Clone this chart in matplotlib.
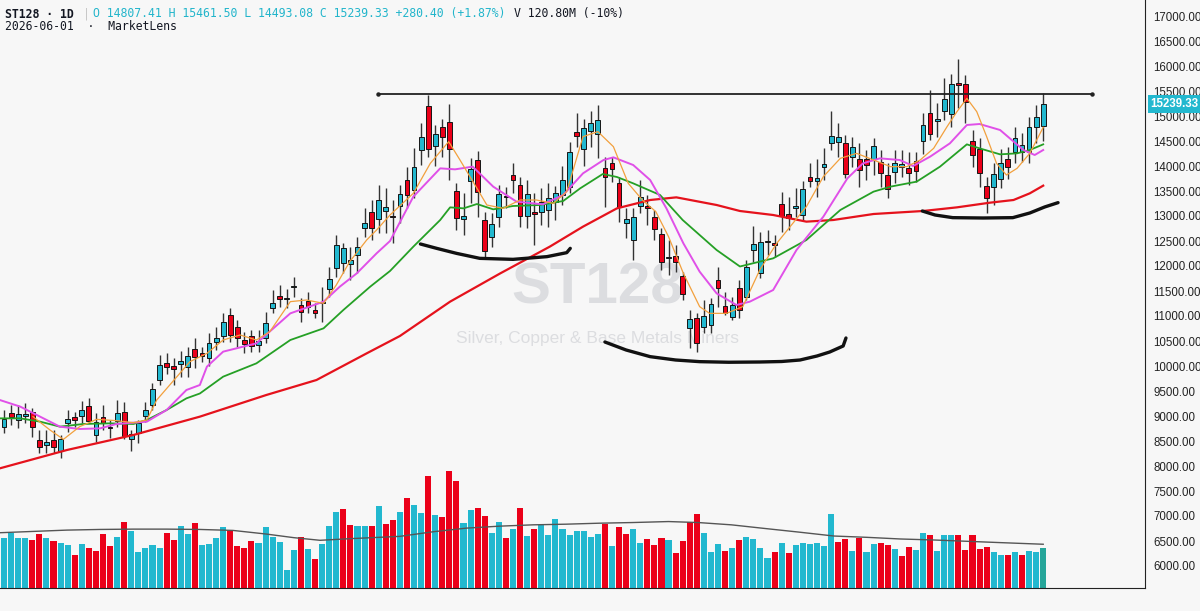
import numpy as np
import matplotlib.pyplot as plt

# daily OHLC (index 0 = first visible session)
opens = [8787, 9067, 8920, 9000, 9073, 8520, 8420, 8520, 8307, 8853,
         8987, 9000, 9200, 8620, 8987, 8787, 8907, 9087, 8533, 8653,
         9000, 9220, 9720, 10053, 10000, 10040, 9987, 10333, 10253, 10153,
         10473, 10600, 11020, 10773, 10520, 10607, 10420, 10553, 11153, 11400,
         11340, 11590, 11213, 11307, 11120, 11270, 11540, 11967, 12067, 12040,
         12220, 12753, 13087, 12933, 13107, 12990, 13200, 13720, 13520, 14320,
         15200, 14407, 14773, 14887, 13500, 12933, 13707, 14120, 12920, 12587,
         12987, 13400, 13820, 13620, 13000, 13080, 13087, 13120, 13287, 13420,
         13587, 14687, 14333, 14700, 14640, 13967, 14053, 13653, 12853, 12520,
         13200, 13200, 12973, 12640, 12160, 12207, 11807, 10753, 10967, 10787,
         10820, 11720, 11200, 10973, 11553, 11387, 12320, 11853, 12480, 12467,
         13233, 13040, 13153, 13020, 13773, 13700, 13987, 14453, 14473, 14453,
         14187, 14133, 14140, 14133, 14073, 13820, 13873, 13987, 13953, 14107,
         14507, 15067, 14893, 15107, 15033, 15655, 15633, 14500, 14333, 13600,
         13587, 13733, 14133, 14287, 14287, 14287, 14773, 14807.41]
highs = [9120, 9220, 9220, 9260, 9153, 8720, 8720, 8720, 8620, 9120,
         9087, 9307, 9353, 9053, 9220, 8920, 9320, 9287, 8720, 8920,
         9287, 9653, 10220, 10253, 10153, 10307, 10387, 10553, 10387, 10653,
         10787, 11053, 11153, 10920, 10687, 10720, 10720, 11087, 11520, 11620,
         11533, 11773, 11353, 11487, 11253, 11573, 11987, 12620, 12453, 12387,
         12587, 13153, 13320, 13620, 13553, 13320, 13620, 13973, 14353, 14853,
         15420, 14820, 14933, 15240, 13653, 13453, 14153, 14307, 13073, 13053,
         13620, 13587, 14067, 13787, 13720, 13453, 13553, 13653, 13600, 14000,
         14487, 15067, 14933, 15107, 15220, 14187, 14187, 13787, 13153, 13153,
         13720, 13420, 13120, 12753, 12520, 12420, 11887, 11120, 11053, 11320,
         11353, 11987, 11487, 11387, 11720, 12120, 12807, 12687, 12720, 12620,
         13487, 13387, 13553, 13700, 14053, 14133, 14353, 15100, 14867, 14620,
         14587, 14467, 14320, 14553, 14320, 14053, 14320, 14320, 14287, 14287,
         15053, 15520, 15267, 15753, 15840, 16140, 15820, 14720, 14553, 13787,
         14067, 14333, 14373, 14787, 14653, 14987, 15220, 15461.50]
lows = [8653, 8820, 8753, 8860, 8587, 8267, 8253, 8267, 8153, 8687,
        8787, 8853, 8853, 8487, 8720, 8553, 8787, 8533, 8307, 8453,
        8887, 9120, 9620, 9840, 9620, 9787, 9787, 9953, 10087, 10007,
        10320, 10487, 10487, 10387, 10253, 10287, 10287, 10453, 11053, 11187,
        11153, 11387, 10887, 11053, 10953, 10887, 11387, 11787, 11853, 11720,
        11867, 12587, 12520, 12653, 12653, 12453, 12853, 13153, 13353, 14020,
        14173, 14000, 14187, 13720, 12720, 12620, 13253, 12987, 12153, 12387,
        12787, 13153, 13453, 12787, 12753, 12420, 12820, 12787, 12920, 13220,
        13453, 14387, 14007, 14387, 14153, 13187, 13687, 12887, 12553, 12120,
        13053, 12820, 12520, 11920, 11820, 11887, 11320, 10353, 10287, 10653,
        10653, 11187, 11020, 10920, 10953, 11320, 12087, 11753, 12220, 12187,
        12687, 12720, 12987, 12920, 13587, 13387, 13720, 14320, 14187, 13753,
        13987, 13587, 13720, 13820, 13587, 13353, 13653, 13787, 13620, 13687,
        14240, 14520, 14573, 14920, 14787, 15153, 14853, 13987, 13587, 13053,
        13220, 13553, 13733, 14053, 14087, 14053, 14453, 14493.08]
closes = [8933, 8987, 9033, 9040, 8787, 8387, 8487, 8387, 8533, 8933,
          8920, 9120, 8907, 8887, 8853, 8753, 9053, 8607, 8633, 8853,
          9120, 9533, 10020, 9973, 9933, 10107, 10200, 10187, 10200, 10467,
          10553, 10887, 10620, 10553, 10440, 10400, 10500, 10867, 11267, 11333,
          11360, 11600, 11087, 11187, 11053, 11280, 11740, 12420, 12367, 12120,
          12387, 12867, 12753, 13320, 13187, 12987, 13440, 13420, 13987, 14573,
          14340, 14640, 14587, 14340, 12953, 13000, 13940, 13487, 12307, 12840,
          13433, 13387, 13720, 13007, 13433, 13050, 13287, 13353, 13453, 13720,
          14287, 14607, 14753, 14853, 14920, 13773, 13933, 13187, 12933, 12987,
          13387, 13170, 12733, 12087, 12180, 12087, 11433, 10933, 10467, 11000,
          11240, 11553, 11053, 11220, 11120, 11987, 12440, 12473, 12490, 12420,
          13007, 12953, 13207, 13533, 13700, 13767, 14033, 14607, 14573, 13833,
          14387, 13920, 14020, 14400, 13853, 13533, 14067, 14050, 13867, 13907,
          14820, 14640, 14940, 15333, 15640, 15625, 15273, 14220, 13853, 13353,
          13833, 14053, 13987, 14553, 14420, 14787, 14973, 15239.33]
# volume in millions
volumes = [151, 168, 151, 151, 146, 163, 151, 142, 137, 130,
           99, 135, 123, 113, 163, 128, 154, 202, 174, 108,
           121, 130, 121, 168, 146, 188, 163, 197, 130, 133,
           151, 185, 176, 128, 123, 144, 137, 186, 154, 140,
           54, 116, 156, 118, 89, 135, 188, 232, 239, 192,
           188, 188, 188, 249, 195, 207, 232, 275, 252, 228,
           341, 223, 217, 356, 325, 197, 237, 242, 220, 168,
           200, 151, 180, 242, 158, 180, 191, 161, 211, 179,
           161, 174, 174, 156, 163, 195, 128, 185, 163, 179,
           137, 149, 130, 151, 145, 106, 143, 201, 225, 168,
           109, 133, 113, 123, 146, 156, 149, 123, 92, 109,
           137, 106, 131, 137, 133, 137, 128, 224, 140, 149,
           111, 153, 108, 135, 137, 130, 119, 97, 124, 116,
           168, 161, 113, 161, 161, 161, 116, 161, 119, 124,
           108, 99, 101, 108, 101, 111, 108, 120.8]

# moving averages, sampled along the lines (session index, value)
vol_ma_x = [-0.6, 4.1, 8.9, 13.6, 18.3, 23, 27.7, 32.4, 37.1, 41, 44.7, 49, 56,
            60.7, 65.4, 70.1, 74.8, 79.5, 84.2, 88.9, 94, 98.2, 102.9, 107.6,
            112.4, 117.4, 122.1, 126.8, 131.5, 136.2, 140.9, 147]
vol_ma_y = [168, 172, 176, 178, 179, 179, 178, 175, 164, 153, 145, 150, 157,
            171, 182, 188, 192, 194, 197, 199, 202, 199, 192, 181,
            170, 158, 154, 149, 146, 142, 138, 133]

ma_red_x = [-0.6, 8.9, 18.3, 27.7, 37.1, 44.2, 51.3, 56, 63.1, 70.2, 77.2, 81.9,
            86.7, 91.4, 95.1, 100.8, 104.1, 108.8, 113.5, 117.3, 123, 130, 134.8,
            139.5, 142.8, 145.1, 147]
ma_red_y = [7953, 8320, 8620, 8987, 9420, 9720, 10253, 10600, 11287, 11853, 12387,
            12787, 13153, 13320, 13373, 13220, 13100, 13020, 12887, 12920, 13040,
            13100, 13173, 13267, 13320, 13453, 13607]

ma_green_x = [-0.6, 2.3, 5.1, 7.9, 11.2, 15, 18.3, 20.2, 23, 25.8, 27.7, 31, 35.7,
              40.5, 45.2, 48, 51.8, 54.6, 57.9, 61.7, 63.1, 65, 66.9, 69.2, 72,
              75.8, 79.1, 81.5, 84.7, 86.7, 89, 92.8, 96, 100.8, 104.1, 108.8,
              113.5, 118.3, 123, 125.4, 129.1, 132.4, 136.2, 138, 140.9, 143.3,
              145.1, 147]
ma_green_y = [8953, 8953, 8887, 8787, 8840, 8853, 8840, 8920, 9120, 9353, 9450,
              9787, 10053, 10520, 10753, 11120, 11587, 11900, 12387, 12920, 13173,
              13153, 13240, 13133, 13200, 13220, 13300, 13553, 13840, 13780, 13653,
              13420, 12920, 12320, 11990, 12153, 12520, 13120, 13487, 13587, 13687,
              13987, 14433, 14353, 14233, 14253, 14320, 14433]

ma_pink_x = [-0.6, 2.3, 5.1, 7.9, 10.7, 13.6, 15.9, 18.3, 20.2, 23, 25.8, 27.7,
             28.7, 31, 35.7, 40.5, 45.2, 47.5, 49.9, 52.7, 54.6, 57.9, 61.7, 63.8,
             66.3, 69.2, 72.5, 76.2, 79.1, 81.9, 84.8, 86.2, 89, 91.4, 93.7, 96.1,
             98.4, 100.8, 103.6, 105.5, 108.8, 112.1, 115.9, 119.3, 121.5, 123.9,
             126.7, 128.6, 131, 133.8, 136.2, 138, 140.9, 144.2, 145.8, 147]
ma_pink_y = [9320, 9187, 8987, 8787, 8740, 8753, 8840, 8867, 8887, 9120, 9520,
             9620, 9987, 10287, 10453, 11053, 11287, 11587, 11853, 12253, 12500,
             13387, 13953, 13933, 13987, 13587, 13287, 13233, 13420, 13853, 14120,
             14173, 14020, 13720, 13153, 12453, 11887, 11453, 11220, 11287, 11520,
             12320, 12987, 13753, 14053, 14153, 14120, 14000, 14187, 14453, 14820,
             14840, 14720, 14320, 14220, 14320]

ma_orange_x = [4.1, 6.5, 8.4, 10.7, 13.1, 15.9, 18.3, 20.2, 21.6, 26.3, 28.7, 31,
               33.4, 35.7, 37.6, 40.5, 42.8, 45.2, 47, 48.9, 51.3, 52.7, 54.6,
               57.9, 60.3, 62.9, 64.5, 66.9, 68.3, 70.6, 73, 75.3, 77.7, 79.6,
               81.9, 84, 86.2, 88.3, 90.3, 92.2, 94, 96.1, 98.4, 99.8, 102.2, 104.5,
               106.9, 109.3, 111.2, 113.5, 115.9, 118.3, 120.6, 123, 125.4, 127.7,
               129.6, 131.5, 133.4, 134.8, 136.2, 137.6, 139, 140.4, 141.8, 143.3,
               145.1, 147]
ma_orange_y = [8987, 8720, 8533, 8787, 8933, 8907, 8867, 8920, 9320, 10087, 10253,
               10520, 10620, 10520, 10687, 11287, 11320, 11253, 11620, 12087, 12520,
               12720, 13020, 13453, 14053, 14487, 14120, 13553, 13220, 13153, 13320,
               13320, 13253, 13487, 14587, 14687, 14387, 13653, 13320, 13087, 12587,
               11853, 11187, 11053, 11053, 11187, 11920, 12453, 12787, 13187, 13787,
               14153, 14253, 14120, 13987, 13987, 14120, 14353, 14787, 15087, 15353,
               15087, 14587, 14053, 13820, 13953, 14253, 14773]

# hand drawn marks on the chart (session index, price)
resist_x = [52.9, 153.9]
resist_y = [15450, 15450]
arc1_x = [58.9, 61.2, 64, 67.3, 72, 76.8, 79.6, 80.1]
arc1_y = [12440, 12353, 12253, 12153, 12133, 12187, 12267, 12353]
arc2_x = [85, 88, 91.4, 95, 98.4, 102.5, 106.9, 110, 112.6, 115, 116.8, 118.7, 119.1]
arc2_y = [10480, 10320, 10187, 10120, 10087, 10075, 10080, 10090, 10120, 10200, 10280, 10400, 10560]
arc3_x = [129.9, 131.7, 134.2, 138.5, 142.7, 145.1, 147.2, 149.1]
arc3_y = [13100, 13020, 12967, 12960, 12967, 13060, 13180, 13267]

tick_pos = [4, 13, 23, 32, 45, 54, 65, 74, 84, 93, 106, 115, 127, 136, 147]
tick_lbl = ["Nov '25", "14 Nov", "Dec '25", "12 Dec", "'26", "15 Jan", "Feb '26",
            "13 Feb", "Mar '26", "13 Mar", "Apr '26", "15 Apr", "May '26", "14 May",
            "Jun '26"]

BG = '#f7f7f7'
UP = '#22b8cf'
DOWN = '#eb0019'

fig = plt.figure(figsize=(12, 6.11), dpi=100, facecolor=BG)
ax_v = fig.add_axes([0, 588 / 611 * 0 + 23 / 611, 1145 / 1200, 588 / 611])
ax = fig.add_axes(ax_v.get_position(), sharex=ax_v)
ax_v.set_facecolor(BG)
ax.patch.set_visible(False)

x = np.arange(len(closes))
o = np.array(opens)
h = np.array(highs)
l = np.array(lows)
c = np.array(closes)

# volume, coloured by close against previous close
prev = np.concatenate([[c[0] - 1], c[:-1]])
vcol = np.where(c >= prev, UP, DOWN).tolist()
vcol[-1] = '#26a69a'
ax_v.bar(x, volumes, 0.86, color=vcol, zorder=2)
ax_v.plot(vol_ma_x, vol_ma_y, color='#555555', lw=1.0, zorder=3)
ax_v.set_ylim(0, 588 * 3.04)
ax_v.set_yticks([])
for s in ax_v.spines.values():
    s.set_visible(False)
ax_v.tick_params(axis='x', length=0)

# candles
ax.vlines(x, l, h, color='#333333', lw=1.0, zorder=3)
body_lo = np.minimum(o, c)
body_h = np.maximum(np.abs(c - o), 14)
ax.bar(x, body_h, 0.68, bottom=body_lo, color=np.where(c >= o, UP, DOWN),
       edgecolor='#151515', linewidth=0.7, zorder=4)

# moving averages
ax.plot(ma_red_x, ma_red_y, color='#e5121c', lw=1.6, zorder=5)
ax.plot(ma_green_x, ma_green_y, color='#25a025', lw=1.3, zorder=5)
ax.plot(ma_pink_x, ma_pink_y, color='#e050e8', lw=1.4, zorder=5)
ax.plot(ma_orange_x, ma_orange_y, color='#f2a03d', lw=0.9, zorder=6)

# drawings
ax.plot(resist_x, resist_y, color='#222222', lw=1.3, marker='o', ms=2.2, zorder=7)
for ax_x, ax_y in [(arc1_x, arc1_y), (arc2_x, arc2_y), (arc3_x, arc3_y)]:
    ax.plot(ax_x, ax_y, color='#111111', lw=2.4, solid_capstyle='round', zorder=7)

# watermark
ax.text(0.522, 0.51, 'ST128', transform=ax.transAxes, ha='center', va='center',
        fontsize=42, fontweight='bold', color='#dcdde0', family='Liberation Sans', zorder=1)
ax.text(0.522, 0.424, 'Silver, Copper & Base Metals Miners', transform=ax.transAxes,
        ha='center', va='center', fontsize=12.5, color='#dcdde0',
        family='Liberation Sans', zorder=1)

ax.set_xlim(-0.57, 161.4)
ax.set_ylim(5560, 17320)
ax.yaxis.tick_right()
ax.set_yticks(np.arange(6000, 17001, 500))
ax.set_yticklabels([f'{v:.2f}' for v in np.arange(6000, 17001, 500)],
                   fontsize=8.3, color='#222222', family='Liberation Sans')
ax.tick_params(axis='y', length=0, pad=6)
ax.set_xticks(tick_pos)
ax.set_xticklabels(tick_lbl, fontsize=8.5, color='#333333', family='Liberation Sans')
ax.tick_params(axis='x', length=0, pad=5)
for t in ax.get_xticklabels():
    if t.get_text() == "'26":
        t.set_fontweight('bold')
ax_v.set_xticks(tick_pos)
ax_v.set_xticklabels([])
for side in ['top', 'left']:
    ax.spines[side].set_visible(False)
ax.spines['right'].set_color('#222222')
ax.spines['bottom'].set_color('#222222')

# last price tag
ax.annotate(f'{closes[-1]:.2f}', xy=(1.0, closes[-1]), xycoords=('axes fraction', 'data'),
            xytext=(4, 0), textcoords='offset points', ha='left', va='center',
            fontsize=8.3, color='white', family='Liberation Sans', fontweight='bold',
            bbox=dict(boxstyle='square,pad=0.25', fc=UP, ec='none'), zorder=10)

# header
mono = 'DejaVu Sans Mono'
fig.text(5 / 1200, 1 - 14 / 611, 'ST128 · 1D', fontsize=8.3, family=mono,
         fontweight='bold', color='#131722', va='center')
fig.text(83 / 1200, 1 - 14 / 611, '|', fontsize=8.3, family=mono, color='#c8c8c8', va='center')
fig.text(93 / 1200, 1 - 14 / 611,
         'O 14807.41 H 15461.50 L 14493.08 C 15239.33 +280.40 (+1.87%)',
         fontsize=8.3, family=mono, color='#22b5cb', va='center')
fig.text(514 / 1200, 1 - 14 / 611, 'V 120.80M (-10%)', fontsize=8.3, family=mono,
         color='#131722', va='center')
fig.text(5 / 1200, 1 - 27 / 611, '2026-06-01  ·  MarketLens', fontsize=8.3, family=mono,
         color='#131722', va='center')

fig.savefig('out.png', dpi=100, facecolor=BG)
